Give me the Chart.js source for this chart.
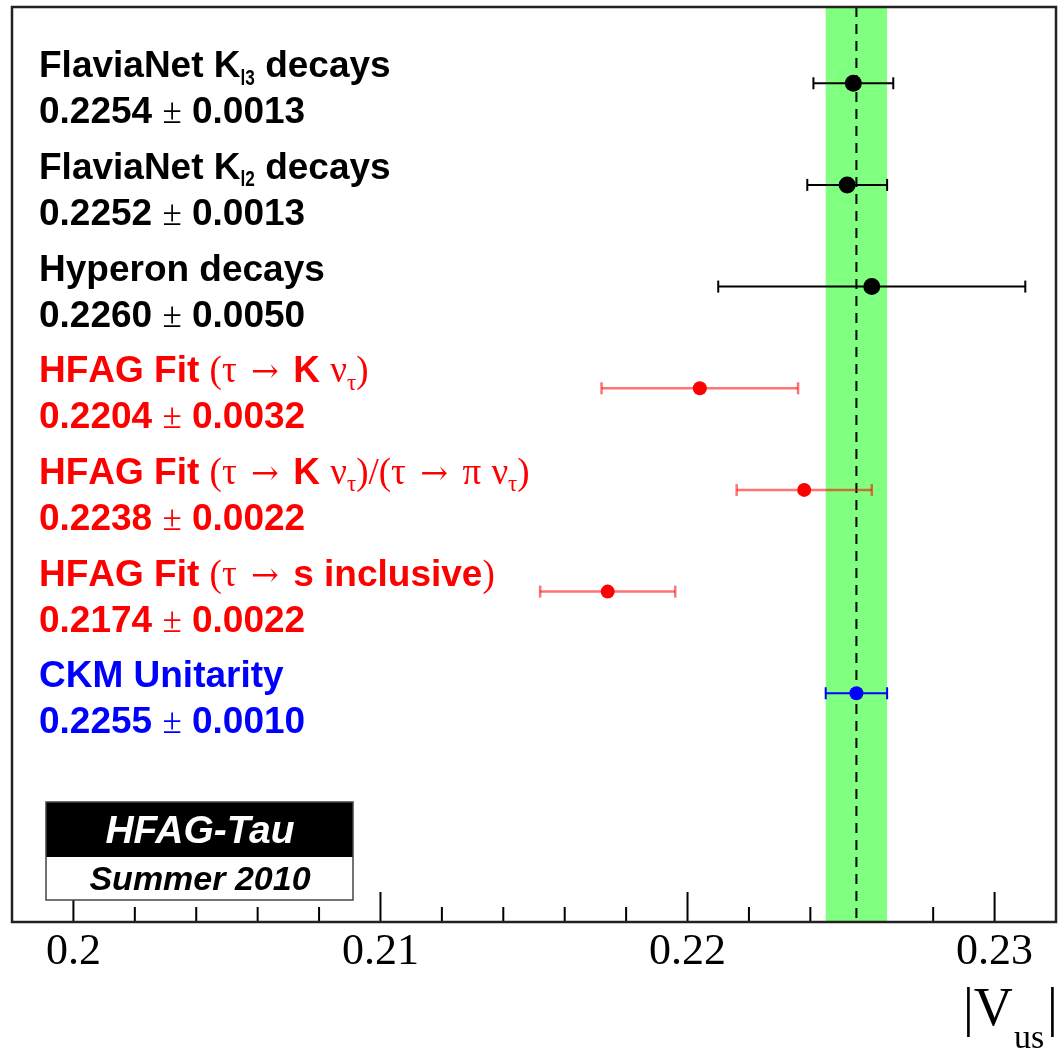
<!DOCTYPE html>
<html>
<head>
<meta charset="utf-8">
<script src="https://cdn.jsdelivr.net/npm/chart.js@4.4.0/dist/chart.umd.min.js"></script>
<style>
  html, body { margin: 0; padding: 0; background: #fff; }
  canvas { display: block; }
</style>
</head>
<body>
<canvas id="vus" width="1059" height="1049"></canvas>
<script>
// |Vus| determinations, top to bottom
const measurements = [
  'FlaviaNet K_{l3} decays',
  'FlaviaNet K_{l2} decays',
  'Hyperon decays',
  'HFAG Fit (τ → K ν_{τ})',
  'HFAG Fit (τ → K ν_{τ})/(τ → π ν_{τ})',
  'HFAG Fit (τ → s inclusive)',
  'CKM Unitarity'
];
const vusValues = [0.2254, 0.2252, 0.2260, 0.2204, 0.2238, 0.2174, 0.2255];
const vusErrors = [0.0013, 0.0013, 0.0050, 0.0032, 0.0022, 0.0022, 0.0010];
const groups = ['other', 'other', 'other', 'tau', 'tau', 'tau', 'ckm'];
const xTicks = [0.2, 0.21, 0.22, 0.23];
const xTickLabels = ['0.2', '0.21', '0.22', '0.23'];
const unitarityIndex = 6;

const style = {
  other: { point: '#000000', bar: '#000000', radius: 8.5, width: 2 },
  tau:   { point: '#ff0000', bar: 'rgba(255,0,0,0.55)', radius: 7, width: 2.5 },
  ckm:   { point: '#0000ff', bar: '#0000ff', radius: 7, width: 2 }
};
const textColor = { other: '#000000', tau: '#ff0000', ckm: '#0000ff' };

const SYMBOLS = 'τνπ±()/';
const FONT_SIZE = 37;

// draws a label with _{..} subscripts; greek letters and arrows use a serif face
function drawRich(ctx, text, x, y, size, color) {
  ctx.fillStyle = color;
  ctx.textBaseline = 'alphabetic';
  ctx.textAlign = 'left';
  let i = 0;
  while (i < text.length) {
    let chunk, sub = false;
    if (text.startsWith('_{', i)) {
      const end = text.indexOf('}', i);
      chunk = text.slice(i + 2, end);
      i = end + 1;
      sub = true;
    } else {
      chunk = text[i];
      i++;
    }
    for (const ch of chunk) {
      const sym = SYMBOLS.includes(ch);
      let s = sub ? size * 0.62 : size;
      if (ch === '±') s = size * 0.95;
      let pad = 0;
      if (ch === '→') {
        ctx.font = (size * 0.9) + 'px "DejaVu Serif"';
        pad = 4;
      } else {
        ctx.font = sym ? s + 'px "Liberation Serif"' : 'bold ' + s + 'px "Liberation Sans"';
      }
      const dy = sub ? size * 0.2 : 0;
      // sans subscripts are set narrow
      const sx = sub && !sym ? 0.75 : 1;
      x += pad;
      ctx.save();
      ctx.translate(x, y + dy);
      ctx.scale(sx, 1);
      ctx.fillText(ch, 0, 0);
      ctx.restore();
      x += ctx.measureText(ch).width * sx + pad;
    }
  }
}

const overlay = {
  id: 'overlay',
  beforeDatasetsDraw(chart) {
    const { ctx, chartArea: a, scales: { x } } = chart;
    ctx.save();
    // inward ticks every 0.002, long ones on labelled values
    ctx.strokeStyle = '#000';
    ctx.lineWidth = 2;
    for (let k = 99; k <= 116; k++) {
      const px = x.getPixelForValue(k * 0.002);
      const len = k % 5 === 0 ? 30 : 15;
      ctx.beginPath();
      ctx.moveTo(px, a.bottom);
      ctx.lineTo(px, a.bottom - len);
      ctx.stroke();
    }
    // unitarity band and central value
    const v = vusValues[unitarityIndex], e = vusErrors[unitarityIndex];
    const lo = x.getPixelForValue(v - e), hi = x.getPixelForValue(v + e);
    ctx.fillStyle = '#80ff80';
    ctx.fillRect(lo, a.top, hi - lo, a.bottom - a.top - 1);
    const mid = x.getPixelForValue(v);
    ctx.setLineDash([10, 7]);
    ctx.beginPath();
    ctx.moveTo(mid, a.top);
    ctx.lineTo(mid, a.bottom);
    ctx.stroke();
    ctx.restore();
  },
  afterDatasetsDraw(chart) {
    const { ctx, chartArea: a, scales: { y } } = chart;
    ctx.save();
    // frame
    ctx.strokeStyle = '#222';
    ctx.lineWidth = 2.5;
    ctx.strokeRect(a.left, a.top, a.right - a.left, a.bottom - a.top);

    // measurement captions
    measurements.forEach((name, i) => {
      const py = y.getPixelForValue(i);
      const c = textColor[groups[i]];
      drawRich(ctx, name, 39, py - 6, FONT_SIZE, c);
      drawRich(ctx, vusValues[i].toFixed(4) + ' ± ' + vusErrors[i].toFixed(4), 39, py + 40, FONT_SIZE, c);
    });

    // HFAG-Tau badge
    ctx.fillStyle = '#000';
    ctx.fillRect(46, 802, 307, 55);
    ctx.fillStyle = '#fff';
    ctx.fillRect(46, 857, 307, 43);
    ctx.strokeStyle = '#444';
    ctx.lineWidth = 1.5;
    ctx.strokeRect(46, 802, 307, 98);
    ctx.textAlign = 'center';
    ctx.textBaseline = 'alphabetic';
    ctx.font = 'italic bold 39px "Liberation Sans"';
    ctx.fillText('HFAG-Tau', 200, 843);
    ctx.fillStyle = '#000';
    ctx.font = 'italic bold 34px "Liberation Sans"';
    ctx.fillText('Summer 2010', 200, 890);

    // axis title |V_us|
    ctx.textAlign = 'left';
    ctx.font = '54px "Liberation Serif"';
    ctx.fillText('|V', 963, 1025);
    ctx.fillText('|', 1047, 1025);
    ctx.font = '34px "Liberation Serif"';
    ctx.fillText('us', 1014, 1048);
    ctx.restore();
  }
};

const pointData = vusValues.map((v, i) => ({ x: v, y: i }));
const barSets = vusValues.map((v, i) => {
  const s = style[groups[i]];
  return {
    data: [{ x: v - vusErrors[i], y: i }, { x: v + vusErrors[i], y: i }],
    showLine: true,
    borderColor: s.bar,
    borderWidth: s.width,
    pointStyle: 'line',
    pointRotation: 90,
    pointRadius: 6,
    pointBorderColor: s.bar,
    pointBorderWidth: s.width,
    order: 1
  };
});

new Chart(document.getElementById('vus'), {
  type: 'scatter',
  data: {
    datasets: [
      {
        data: pointData,
        pointRadius: groups.map(g => style[g].radius),
        pointBackgroundColor: groups.map(g => style[g].point),
        pointBorderWidth: 0,
        order: 0
      },
      ...barSets
    ]
  },
  options: {
    responsive: false,
    animation: false,
    devicePixelRatio: 1,
    layout: { autoPadding: false, padding: { left: 12, top: 7, right: 3, bottom: 0 } },
    plugins: { legend: { display: false }, tooltip: { enabled: false } },
    scales: {
      x: {
        type: 'linear',
        min: 0.198,
        max: 0.232,
        afterBuildTicks: s => { s.ticks = xTicks.map(v => ({ value: v })); },
        afterFit: s => { s.height = 127; },
        grid: { display: false, drawTicks: false },
        border: { display: false },
        ticks: {
          font: { family: 'Liberation Serif', size: 44 },
          color: '#000',
          padding: 4,
          maxRotation: 0,
          autoSkip: false,
          callback: (v, i) => xTickLabels[i]
        }
      },
      y: { type: 'linear', min: -0.75, max: 8.25, reverse: true, display: false }
    }
  },
  plugins: [overlay]
});
</script>
</body>
</html>
